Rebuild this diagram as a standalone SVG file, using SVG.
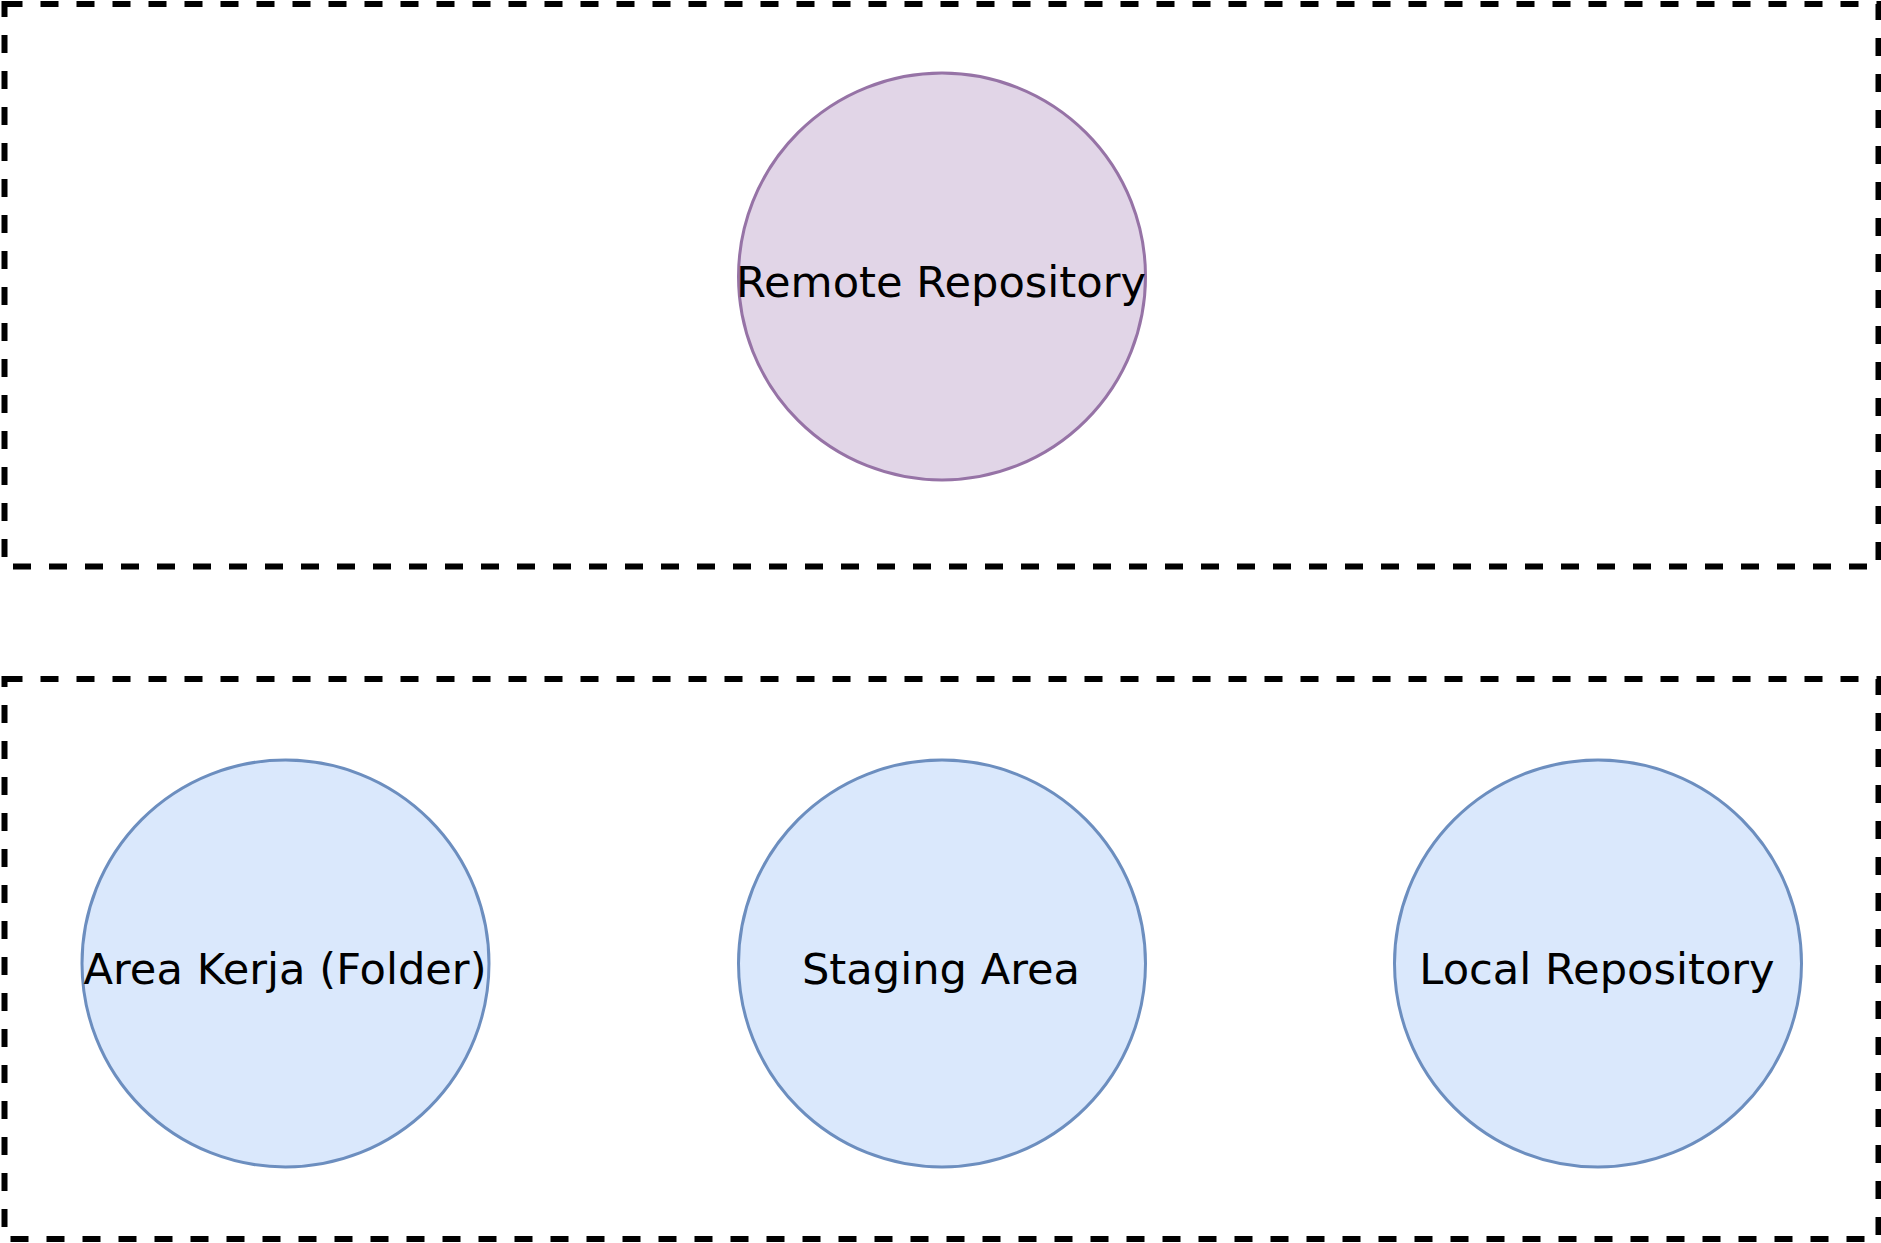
<svg xmlns="http://www.w3.org/2000/svg" width="1881" height="1243" viewBox="0 0 1881 1243">
<style>
.zone{fill:none;stroke:#000;stroke-width:6;stroke-dasharray:18 18}
.remote{fill:#e1d5e7;stroke:#9673a6;stroke-width:3}
.local{fill:#dae8fc;stroke:#6c8ebf;stroke-width:3}
.lbl{font-family:"DejaVu Sans",sans-serif;font-size:43.2px;fill:#000;text-anchor:middle}
</style>
<rect width="1881" height="1243" fill="#fff"/>
<g id="zone-remote"><rect class="zone" x="4.5" y="4" width="1874" height="562.5"/></g>
<g id="zone-local"><rect class="zone" x="4.5" y="679" width="1874" height="560"/></g>
<g id="remote-repository">
<circle class="remote" cx="942" cy="276.5" r="203.5"/>
<text class="lbl" x="941" y="297">Remote Repository</text>
</g>
<g id="area-kerja">
<circle class="local" cx="285.5" cy="963.5" r="203.5"/>
<text class="lbl" x="285" y="983.5">Area Kerja (Folder)</text>
</g>
<g id="staging-area">
<circle class="local" cx="942" cy="963.5" r="203.5"/>
<text class="lbl" x="941" y="983.5">Staging Area</text>
</g>
<g id="local-repository">
<circle class="local" cx="1598" cy="963.5" r="203.5"/>
<text class="lbl" x="1597" y="983.5">Local Repository</text>
</g>
<g id="connectors"></g>
</svg>
